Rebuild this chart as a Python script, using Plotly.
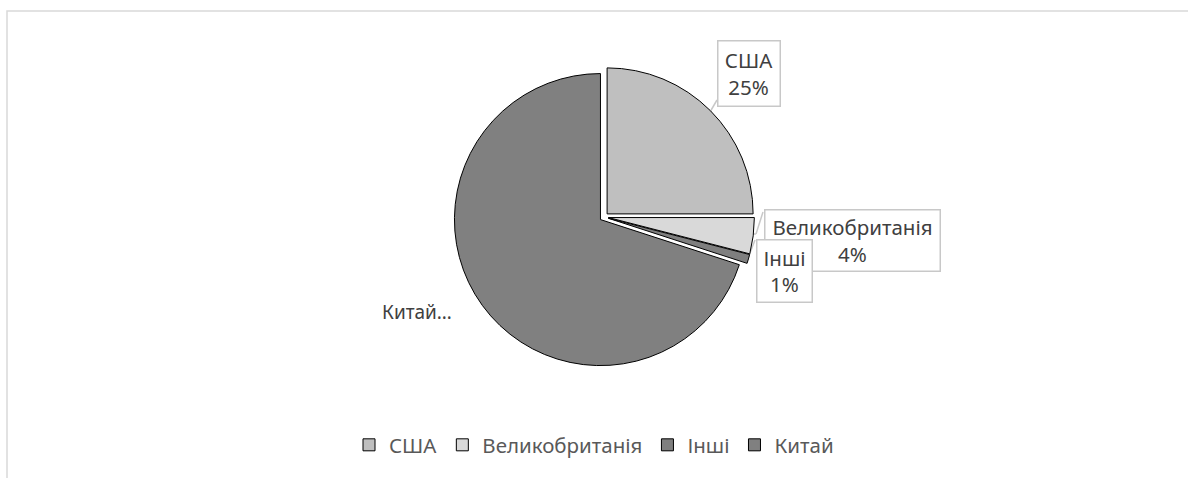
import plotly.graph_objects as go

W, H = 1188, 478

categories = ["США", "Великобританія", "Інші", "Китай"]
values = [25, 4, 1, 70]
colors = ["#BFBFBF", "#D9D9D9", "#7F7F7F", "#808080"]
label_texts = ["США<br>25%", "Великобританія<br>4%", "Інші<br>1%", "Китай…"]

FONT = "Noto Sans"
FS = 20.5

def px(x):
    return x / W

def py(y):
    return 1 - y / H

fig = go.Figure()
fig.add_trace(go.Pie(
    labels=categories,
    values=values,
    sort=False,
    direction="clockwise",
    rotation=0,
    pull=[0.03, 0.03, 0.03, 0.03],
    marker=dict(colors=colors, line=dict(color="#000000", width=1)),
    textinfo="none",
    hoverinfo="label+percent",
    domain=dict(x=[px(453.6), px(754.4)], y=[py(367.4), py(66.6)]),
))

# label boxes (center px, text)
boxes = [
    (748.5, 73, label_texts[0], True),
    (852, 240, label_texts[1], True),
    (784, 270.5, label_texts[2], True),
    (417, 312, label_texts[3], False),
]
box_sizes = {0: (65, 68), 1: (178, 64), 2: (58, 65)}
for i, (cx, cy, t, boxed) in enumerate(boxes):
    kw = {}
    fs = FS
    if boxed:
        bw, bh = box_sizes[i]
        kw = dict(bordercolor="#C8C8C8", borderwidth=1.5, bgcolor="#FFFFFF",
                  width=bw - 8, height=bh - 8, borderpad=2)
    else:
        fs = FS - 1.5
    fig.add_annotation(x=px(cx), y=py(cy), xref="paper", yref="paper",
                       text=t, showarrow=False, align="center",
                       font=dict(family=FONT, size=fs, color="#404040"),
                       xanchor="center", yanchor="middle", **kw)

# leader lines
leaders = [
    [(717, 100), (710, 112)],
    [(763, 212), (756, 234), (752, 234)],
    [(755, 240), (748, 258)],
]
for pts in leaders:
    for (x0, y0), (x1, y1) in zip(pts[:-1], pts[1:]):
        fig.add_shape(type="line", xref="paper", yref="paper",
                      x0=px(x0), y0=py(y0), x1=px(x1), y1=py(y1),
                      line=dict(color="#C8C8C8", width=1.5), layer="below")

# chart frame
fig.add_shape(type="rect", xref="paper", yref="paper",
              x0=px(7), y0=py(H + 10), x1=px(W + 10), y1=py(11),
              line=dict(color="#D9D9D9", width=1.5), layer="below")

fig.update_layout(
    width=W, height=H,
    margin=dict(l=0, r=0, t=0, b=0),
    paper_bgcolor="#FFFFFF",
    plot_bgcolor="#FFFFFF",
    showlegend=True,
    legend=dict(orientation="h", x=0.5, xanchor="center", y=py(445), yanchor="middle",
                font=dict(family=FONT, size=FS, color="#595959"),
                itemwidth=30, traceorder="normal"),
)

fig.write_html("out.html", config={"displayModeBar": False},
               post_script="document.body.style.margin='0';")
